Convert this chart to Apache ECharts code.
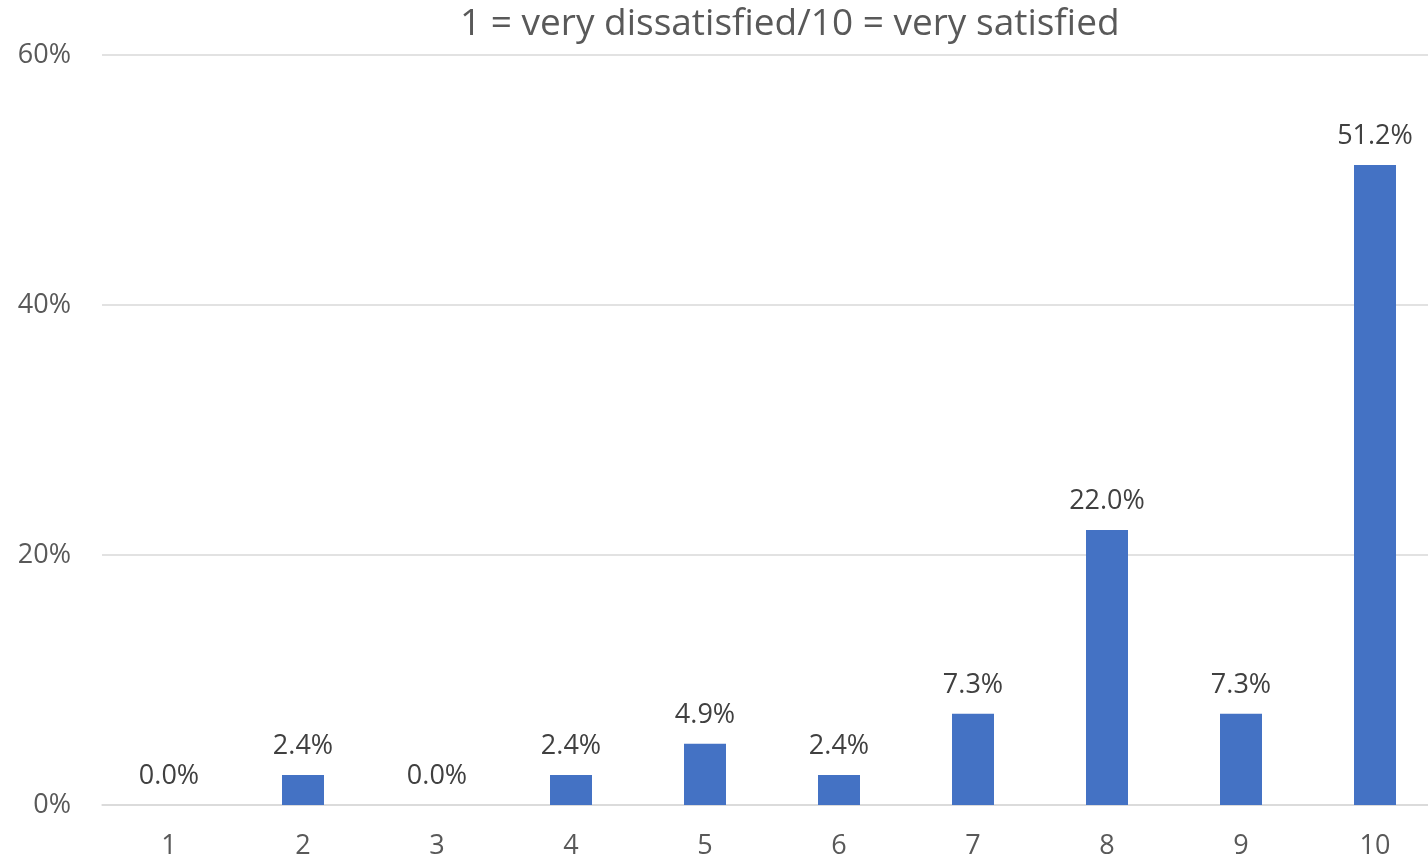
<!DOCTYPE html>
<html>
<head>
<meta charset="utf-8">
<script src="https://cdn.jsdelivr.net/npm/echarts@6/dist/echarts.min.js"></script>
<style>
  html, body { margin: 0; padding: 0; background: #fff; overflow: hidden; }
  /* plot runs a bit past the right edge in the original, so the canvas is wider than the window */
  #main { width: 1442px; height: 860px; }
</style>
</head>
<body>
<div id="main"></div>
<script>
// scores 1..10 and share of answers (%)
var categories = ["1", "2", "3", "4", "5", "6", "7", "8", "9", "10"];
var shares = [0.0, 2.4, 0.0, 2.4, 4.9, 2.4, 7.3, 22.0, 7.3, 51.2];
var yTicks = [0, 20, 40, 60];
var titleText = "1 = very dissatisfied/10 = very satisfied";

var chartDom = document.getElementById("main");
var myChart = echarts.init(chartDom);
var fontFam = "'Open Sans', sans-serif";

var option = {
  animation: false,
  title: {
    text: titleText,
    left: 455,
    top: 1,
    textStyle: {
      fontFamily: fontFam,
      fontSize: 37,
      fontWeight: "normal",
      color: "#595959"
    }
  },
  grid: {
    left: 102,
    right: 0,
    top: 55,
    bottom: 55
  },
  xAxis: {
    type: "category",
    data: categories,
    axisLine: { show: true, lineStyle: { color: "#d9d9d9", width: 1.5 } },
    axisTick: { show: false },
    axisLabel: {
      margin: 28,
      fontFamily: fontFam,
      fontSize: 27,
      color: "#595959"
    }
  },
  yAxis: {
    type: "value",
    min: yTicks[0],
    max: yTicks[yTicks.length - 1],
    interval: 20,
    axisLine: { show: false },
    axisTick: { show: false },
    splitLine: { lineStyle: { color: "#d9d9d9", width: 1.5 } },
    axisLabel: {
      margin: 31,
      fontFamily: fontFam,
      fontSize: 27,
      color: "#595959",
      formatter: "{value}%"
    }
  },
  series: [
    {
      type: "bar",
      data: shares,
      barWidth: 42,
      itemStyle: { color: "#4472C4" },
      label: {
        show: true,
        position: "top",
        distance: 15,
        fontFamily: fontFam,
        fontSize: 27,
        color: "#404040",
        formatter: function (p) {
          return p.value.toFixed(1) + "%";
        }
      }
    }
  ]
};

myChart.setOption(option);
</script>
</body>
</html>
